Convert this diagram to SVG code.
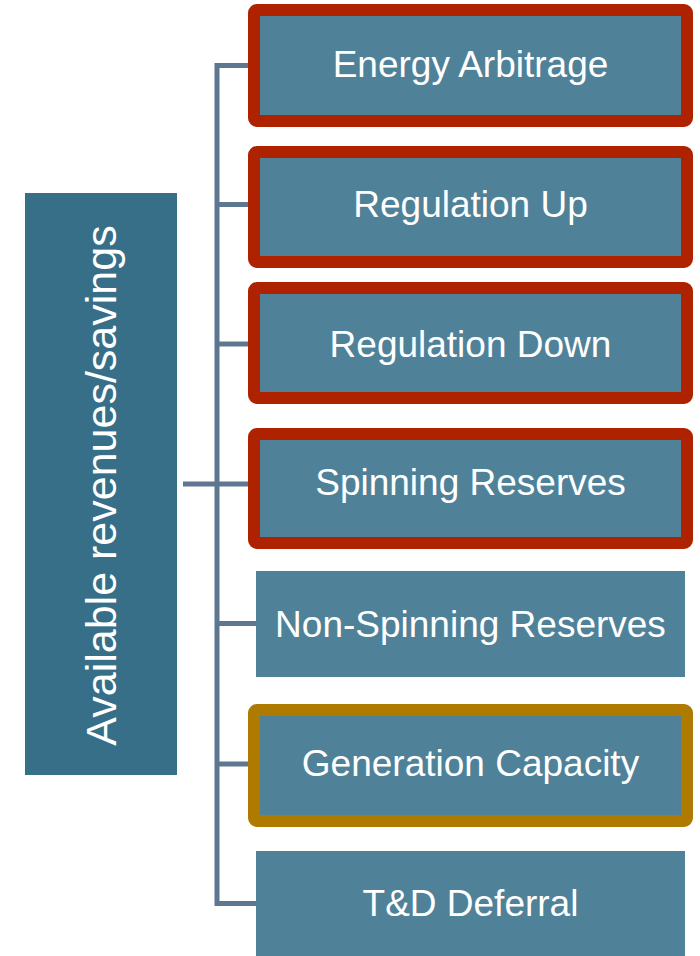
<svg xmlns="http://www.w3.org/2000/svg" width="700" height="956" viewBox="0 0 700 956">
  <style>
    .conn { stroke: #5E7790; stroke-width: 5; fill: none; }
    .box { fill: #4F8299; }
    .hl-red { fill: #4F8299; stroke: #AE2200; stroke-width: 12; }
    .hl-gold { fill: #4F8299; stroke: #AE7A00; stroke-width: 12; }
    .label { font-family: "Liberation Sans", Arial, sans-serif; font-size: 37px; fill: #FFFFFF; text-anchor: middle; }
    .root-label { font-family: "Liberation Sans", Arial, sans-serif; font-size: 43px; fill: #FFFFFF; text-anchor: middle; }
  </style>

  <!-- bracket connectors -->
  <g id="connectors">
    <line class="conn" x1="183" y1="484" x2="217" y2="484"/>
    <path class="conn" d="M250 65.5 H217 V903.5 H258"/>
    <line class="conn" x1="217" y1="204.5" x2="250" y2="204.5"/>
    <line class="conn" x1="217" y1="344" x2="250" y2="344"/>
    <line class="conn" x1="217" y1="484" x2="250" y2="484"/>
    <line class="conn" x1="217" y1="623.5" x2="258" y2="623.5"/>
    <line class="conn" x1="217" y1="764" x2="250" y2="764"/>
  </g>

  <!-- root node -->
  <g id="root">
    <rect x="25" y="193" width="152" height="582" fill="#376F89"/>
    <text class="root-label" transform="translate(116 485.5) rotate(-90)">Available revenues/savings</text>
  </g>

  <g id="energy-arbitrage">
    <rect class="hl-red" x="254" y="10" width="433" height="111" rx="3"/>
    <text class="label" x="470.5" y="77">Energy Arbitrage</text>
  </g>

  <g id="regulation-up">
    <rect class="hl-red" x="254" y="152" width="433" height="110" rx="3"/>
    <text class="label" x="470.5" y="217">Regulation Up</text>
  </g>

  <g id="regulation-down">
    <rect class="hl-red" x="254" y="288" width="433" height="110" rx="3"/>
    <text class="label" x="470.5" y="357">Regulation Down</text>
  </g>

  <g id="spinning-reserves">
    <rect class="hl-red" x="254" y="434" width="433" height="109" rx="3"/>
    <text class="label" x="470.5" y="495">Spinning Reserves</text>
  </g>

  <g id="non-spinning-reserves">
    <rect class="box" x="256" y="571" width="429" height="106"/>
    <text class="label" x="470.5" y="637">Non-Spinning Reserves</text>
  </g>

  <g id="generation-capacity">
    <rect class="hl-gold" x="254" y="710" width="433" height="111" rx="3"/>
    <text class="label" x="470.5" y="776">Generation Capacity</text>
  </g>

  <g id="td-deferral">
    <rect class="box" x="256" y="851" width="429" height="110"/>
    <text class="label" x="470.5" y="916">T&amp;D Deferral</text>
  </g>
</svg>
